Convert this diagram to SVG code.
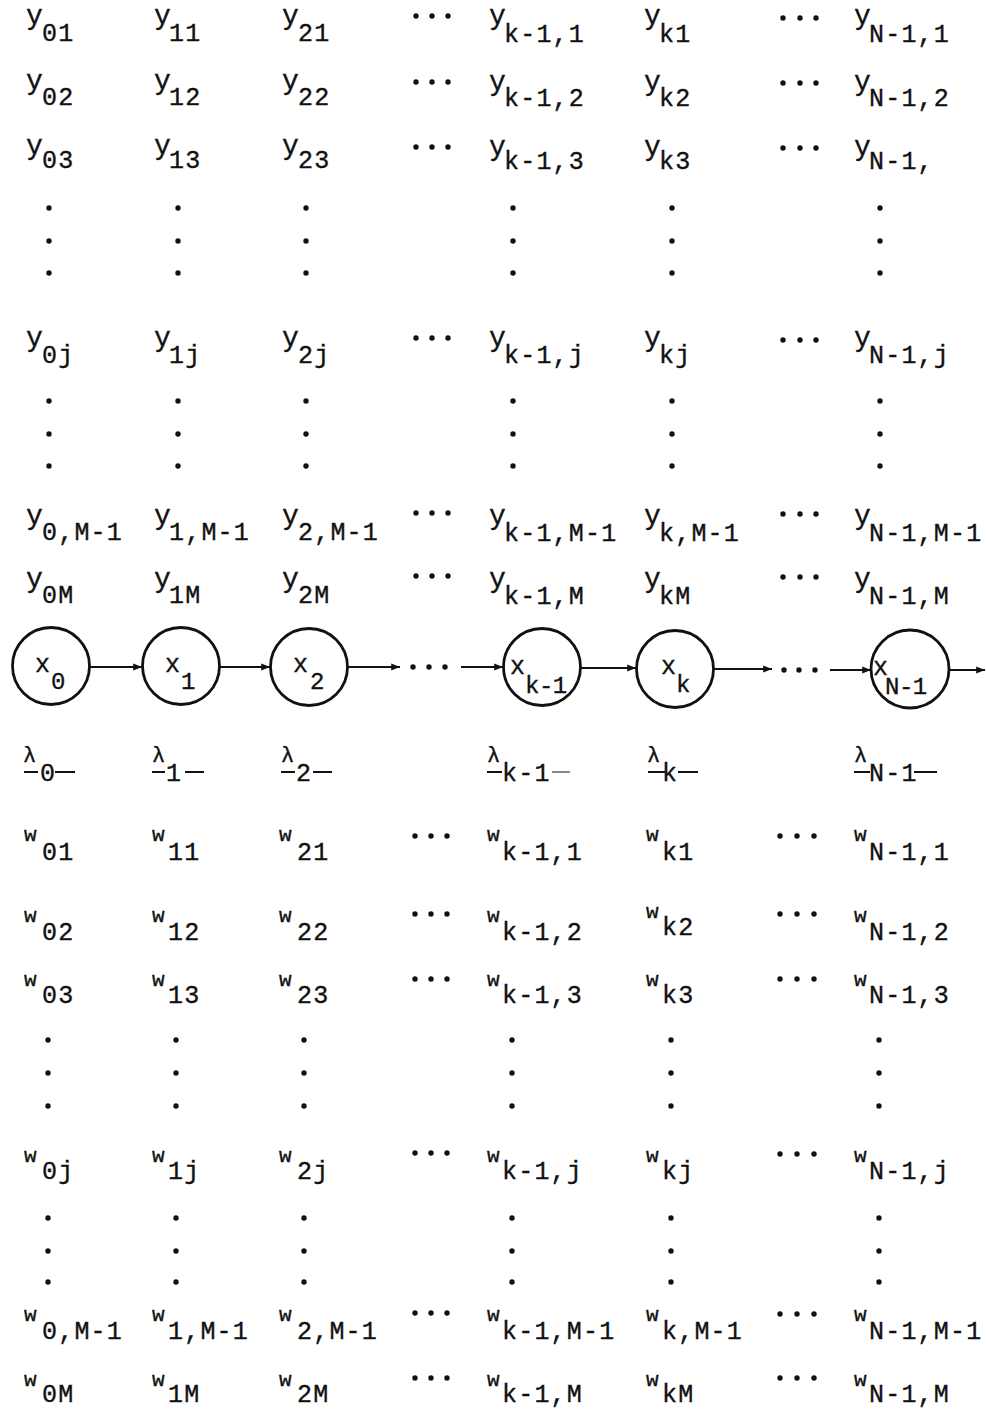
<svg xmlns="http://www.w3.org/2000/svg" width="986" height="1409" viewBox="0 0 986 1409">
<defs>
<style>
text{font-family:"Liberation Mono","DejaVu Sans Mono",monospace;fill:#111;stroke:#111;stroke-width:0.35}
.m{font-size:28px}
.w{font-size:21px}
.s{font-size:25px;letter-spacing:1.2px}
.lam{font-size:22px}
.xs{font-size:25px}
.xsub{font-size:24px;letter-spacing:-0.5px}
.node circle{fill:#fff;stroke:#111;stroke-width:2.8}
.edge{stroke:#111;stroke-width:2.2;fill:none;marker-end:url(#ah)}
.dot{fill:#111}
.ul{stroke:#111;stroke-width:2}
</style>
<marker id="ah" viewBox="0 0 10 10" refX="10" refY="5" markerWidth="5" markerHeight="4" orient="auto" markerUnits="strokeWidth">
<path d="M0,1 L10,5 L0,9 z" fill="#111"/>
</marker>
<circle id="d" r="2.7"/>
</defs>
<rect width="986" height="1409" fill="#fff"/>

<!-- column 0 -->
<g id="col-0">
<text class="m" x="26" y="24">y<tspan class="s" x="42" y="41">01</tspan></text>
<text class="m" x="26" y="89">y<tspan class="s" x="42" y="105">02</tspan></text>
<text class="m" x="26" y="154">y<tspan class="s" x="42" y="168">03</tspan></text>
<text class="m" x="26" y="346">y<tspan class="s" x="42" y="363">0j</tspan></text>
<text class="m" x="26" y="524">y<tspan class="s" x="42" y="540">0,M-1</tspan></text>
<text class="m" x="26" y="587">y<tspan class="s" x="42" y="603">0M</tspan></text>
<text class="lam" x="23" y="762">λ<tspan class="s" x="40" y="781">0</tspan></text>
<line class="ul" x1="24" y1="772" x2="38" y2="772"/><line class="ul" x1="55" y1="772" x2="75" y2="772"/>
<text class="w" x="24" y="841">w<tspan class="s" x="42" y="860">01</tspan></text>
<text class="w" x="24" y="922">w<tspan class="s" x="42" y="940">02</tspan></text>
<text class="w" x="24" y="986">w<tspan class="s" x="42" y="1003">03</tspan></text>
<text class="w" x="24" y="1162">w<tspan class="s" x="42" y="1179">0j</tspan></text>
<text class="w" x="24" y="1321">w<tspan class="s" x="42" y="1339">0,M-1</tspan></text>
<text class="w" x="24" y="1386">w<tspan class="s" x="42" y="1402">0M</tspan></text>
</g>

<!-- column 1 -->
<g id="col-1">
<text class="m" x="154" y="24">y<tspan class="s" x="169" y="41">11</tspan></text>
<text class="m" x="154" y="89">y<tspan class="s" x="169" y="105">12</tspan></text>
<text class="m" x="154" y="154">y<tspan class="s" x="169" y="168">13</tspan></text>
<text class="m" x="154" y="346">y<tspan class="s" x="169" y="363">1j</tspan></text>
<text class="m" x="154" y="524">y<tspan class="s" x="169" y="540">1,M-1</tspan></text>
<text class="m" x="154" y="587">y<tspan class="s" x="169" y="603">1M</tspan></text>
<text class="lam" x="152" y="762">λ<tspan class="s" x="166" y="781">1</tspan></text>
<line class="ul" x1="152" y1="772" x2="165" y2="772"/><line class="ul" x1="185" y1="772" x2="204" y2="772"/>
<text class="w" x="152" y="841">w<tspan class="s" x="168" y="860">11</tspan></text>
<text class="w" x="152" y="922">w<tspan class="s" x="168" y="940">12</tspan></text>
<text class="w" x="152" y="986">w<tspan class="s" x="168" y="1003">13</tspan></text>
<text class="w" x="152" y="1162">w<tspan class="s" x="168" y="1179">1j</tspan></text>
<text class="w" x="152" y="1321">w<tspan class="s" x="168" y="1339">1,M-1</tspan></text>
<text class="w" x="152" y="1386">w<tspan class="s" x="168" y="1402">1M</tspan></text>
</g>

<!-- column 2 -->
<g id="col-2">
<text class="m" x="282" y="24">y<tspan class="s" x="298" y="41">21</tspan></text>
<text class="m" x="282" y="89">y<tspan class="s" x="298" y="105">22</tspan></text>
<text class="m" x="282" y="154">y<tspan class="s" x="298" y="168">23</tspan></text>
<text class="m" x="282" y="346">y<tspan class="s" x="298" y="363">2j</tspan></text>
<text class="m" x="282" y="524">y<tspan class="s" x="298" y="540">2,M-1</tspan></text>
<text class="m" x="282" y="587">y<tspan class="s" x="298" y="603">2M</tspan></text>
<text class="lam" x="281" y="762">λ<tspan class="s" x="296" y="781">2</tspan></text>
<line class="ul" x1="281" y1="772" x2="295" y2="772"/><line class="ul" x1="313" y1="772" x2="332" y2="772"/>
<text class="w" x="279" y="841">w<tspan class="s" x="297" y="860">21</tspan></text>
<text class="w" x="279" y="922">w<tspan class="s" x="297" y="940">22</tspan></text>
<text class="w" x="279" y="986">w<tspan class="s" x="297" y="1003">23</tspan></text>
<text class="w" x="279" y="1162">w<tspan class="s" x="297" y="1179">2j</tspan></text>
<text class="w" x="279" y="1321">w<tspan class="s" x="297" y="1339">2,M-1</tspan></text>
<text class="w" x="279" y="1386">w<tspan class="s" x="297" y="1402">2M</tspan></text>
</g>

<!-- column k-1 -->
<g id="col-k-1">
<text class="m" x="489" y="24">y<tspan class="s" x="504" y="42">k-1,1</tspan></text>
<text class="m" x="489" y="90">y<tspan class="s" x="504" y="106">k-1,2</tspan></text>
<text class="m" x="489" y="155">y<tspan class="s" x="504" y="169">k-1,3</tspan></text>
<text class="m" x="489" y="346">y<tspan class="s" x="504" y="363">k-1,j</tspan></text>
<text class="m" x="489" y="524">y<tspan class="s" x="504" y="541">k-1,M-1</tspan></text>
<text class="m" x="489" y="587">y<tspan class="s" x="504" y="604">k-1,M</tspan></text>
<text class="lam" x="487" y="762">λ<tspan class="s" x="502" y="781">k-1</tspan></text>
<line class="ul" x1="487" y1="772" x2="502" y2="772"/><line x1="552" y1="772" x2="570" y2="772" stroke="#888" stroke-width="2"/>
<text class="w" x="487" y="841">w<tspan class="s" x="502" y="860">k-1,1</tspan></text>
<text class="w" x="487" y="922">w<tspan class="s" x="502" y="940">k-1,2</tspan></text>
<text class="w" x="487" y="986">w<tspan class="s" x="502" y="1003">k-1,3</tspan></text>
<text class="w" x="487" y="1162">w<tspan class="s" x="502" y="1179">k-1,j</tspan></text>
<text class="w" x="487" y="1321">w<tspan class="s" x="502" y="1339">k-1,M-1</tspan></text>
<text class="w" x="487" y="1386">w<tspan class="s" x="502" y="1402">k-1,M</tspan></text>
</g>

<!-- column k -->
<g id="col-k">
<text class="m" x="644" y="24">y<tspan class="s" x="659" y="42">k1</tspan></text>
<text class="m" x="644" y="90">y<tspan class="s" x="659" y="106">k2</tspan></text>
<text class="m" x="644" y="155">y<tspan class="s" x="659" y="169">k3</tspan></text>
<text class="m" x="644" y="346">y<tspan class="s" x="659" y="363">kj</tspan></text>
<text class="m" x="644" y="524">y<tspan class="s" x="659" y="541">k,M-1</tspan></text>
<text class="m" x="644" y="587">y<tspan class="s" x="659" y="604">kM</tspan></text>
<text class="lam" x="647" y="762">λ<tspan class="s" x="662" y="781">k</tspan></text>
<line class="ul" x1="648" y1="772" x2="665" y2="772"/><line class="ul" x1="678" y1="772" x2="698" y2="772"/>
<text class="w" x="646" y="841">w<tspan class="s" x="662" y="860">k1</tspan></text>
<text class="w" x="646" y="918">w<tspan class="s" x="662" y="935">k2</tspan></text>
<text class="w" x="646" y="986">w<tspan class="s" x="662" y="1003">k3</tspan></text>
<text class="w" x="646" y="1162">w<tspan class="s" x="662" y="1179">kj</tspan></text>
<text class="w" x="646" y="1321">w<tspan class="s" x="662" y="1339">k,M-1</tspan></text>
<text class="w" x="646" y="1386">w<tspan class="s" x="662" y="1402">kM</tspan></text>
</g>

<!-- column N-1 -->
<g id="col-N-1">
<text class="m" x="854" y="24">y<tspan class="s" x="869" y="42">N-1,1</tspan></text>
<text class="m" x="854" y="90">y<tspan class="s" x="869" y="106">N-1,2</tspan></text>
<text class="m" x="854" y="155">y<tspan class="s" x="869" y="169">N-1,</tspan></text>
<text class="m" x="854" y="346">y<tspan class="s" x="869" y="363">N-1,j</tspan></text>
<text class="m" x="854" y="524">y<tspan class="s" x="869" y="541">N-1,M-1</tspan></text>
<text class="m" x="854" y="587">y<tspan class="s" x="869" y="604">N-1,M</tspan></text>
<text class="lam" x="854" y="762">λ<tspan class="s" x="869" y="781">N-1</tspan></text>
<line class="ul" x1="854" y1="772" x2="870" y2="772"/><line class="ul" x1="914" y1="772" x2="937" y2="772"/>
<text class="w" x="854" y="841">w<tspan class="s" x="869" y="860">N-1,1</tspan></text>
<text class="w" x="854" y="922">w<tspan class="s" x="869" y="940">N-1,2</tspan></text>
<text class="w" x="854" y="986">w<tspan class="s" x="869" y="1003">N-1,3</tspan></text>
<text class="w" x="854" y="1162">w<tspan class="s" x="869" y="1179">N-1,j</tspan></text>
<text class="w" x="854" y="1321">w<tspan class="s" x="869" y="1339">N-1,M-1</tspan></text>
<text class="w" x="854" y="1386">w<tspan class="s" x="869" y="1402">N-1,M</tspan></text>
</g>

<!-- vertical and horizontal ellipses -->
<g id="ellipses" class="dot">
<g id="vdots-y1">
<use href="#d" x="49" y="208"/><use href="#d" x="49" y="241"/><use href="#d" x="49" y="273"/>
<use href="#d" x="178" y="208"/><use href="#d" x="178" y="241"/><use href="#d" x="178" y="273"/>
<use href="#d" x="306" y="208"/><use href="#d" x="306" y="241"/><use href="#d" x="306" y="273"/>
<use href="#d" x="513" y="208"/><use href="#d" x="513" y="241"/><use href="#d" x="513" y="273"/>
<use href="#d" x="672" y="208"/><use href="#d" x="672" y="241"/><use href="#d" x="672" y="273"/>
<use href="#d" x="880" y="208"/><use href="#d" x="880" y="241"/><use href="#d" x="880" y="273"/>
</g>
<g id="vdots-y2">
<use href="#d" x="49" y="401"/><use href="#d" x="49" y="434"/><use href="#d" x="49" y="466"/>
<use href="#d" x="178" y="401"/><use href="#d" x="178" y="434"/><use href="#d" x="178" y="466"/>
<use href="#d" x="306" y="401"/><use href="#d" x="306" y="434"/><use href="#d" x="306" y="466"/>
<use href="#d" x="513" y="401"/><use href="#d" x="513" y="434"/><use href="#d" x="513" y="466"/>
<use href="#d" x="672" y="401"/><use href="#d" x="672" y="434"/><use href="#d" x="672" y="466"/>
<use href="#d" x="880" y="401"/><use href="#d" x="880" y="434"/><use href="#d" x="880" y="466"/>
</g>
<g id="vdots-w1">
<use href="#d" x="48" y="1040"/><use href="#d" x="48" y="1073"/><use href="#d" x="48" y="1106"/>
<use href="#d" x="176" y="1040"/><use href="#d" x="176" y="1073"/><use href="#d" x="176" y="1106"/>
<use href="#d" x="304" y="1040"/><use href="#d" x="304" y="1073"/><use href="#d" x="304" y="1106"/>
<use href="#d" x="512" y="1040"/><use href="#d" x="512" y="1073"/><use href="#d" x="512" y="1106"/>
<use href="#d" x="671" y="1040"/><use href="#d" x="671" y="1073"/><use href="#d" x="671" y="1106"/>
<use href="#d" x="879" y="1040"/><use href="#d" x="879" y="1073"/><use href="#d" x="879" y="1106"/>
</g>
<g id="vdots-w2">
<use href="#d" x="48" y="1218"/><use href="#d" x="48" y="1251"/><use href="#d" x="48" y="1282"/>
<use href="#d" x="176" y="1218"/><use href="#d" x="176" y="1251"/><use href="#d" x="176" y="1282"/>
<use href="#d" x="304" y="1218"/><use href="#d" x="304" y="1251"/><use href="#d" x="304" y="1282"/>
<use href="#d" x="512" y="1218"/><use href="#d" x="512" y="1251"/><use href="#d" x="512" y="1282"/>
<use href="#d" x="671" y="1218"/><use href="#d" x="671" y="1251"/><use href="#d" x="671" y="1282"/>
<use href="#d" x="879" y="1218"/><use href="#d" x="879" y="1251"/><use href="#d" x="879" y="1282"/>
</g>
<g id="hdots-rows">
<use href="#d" x="416" y="16"/><use href="#d" x="432" y="16"/><use href="#d" x="448" y="16"/>
<use href="#d" x="783" y="18"/><use href="#d" x="800" y="18"/><use href="#d" x="816" y="18"/>
<use href="#d" x="416" y="82"/><use href="#d" x="432" y="82"/><use href="#d" x="448" y="82"/>
<use href="#d" x="783" y="83"/><use href="#d" x="800" y="83"/><use href="#d" x="816" y="83"/>
<use href="#d" x="416" y="147"/><use href="#d" x="432" y="147"/><use href="#d" x="448" y="147"/>
<use href="#d" x="783" y="148"/><use href="#d" x="800" y="148"/><use href="#d" x="816" y="148"/>
<use href="#d" x="416" y="338"/><use href="#d" x="432" y="338"/><use href="#d" x="448" y="338"/>
<use href="#d" x="783" y="340"/><use href="#d" x="800" y="340"/><use href="#d" x="816" y="340"/>
<use href="#d" x="416" y="513"/><use href="#d" x="432" y="513"/><use href="#d" x="448" y="513"/>
<use href="#d" x="783" y="514"/><use href="#d" x="800" y="514"/><use href="#d" x="816" y="514"/>
<use href="#d" x="416" y="576"/><use href="#d" x="432" y="576"/><use href="#d" x="448" y="576"/>
<use href="#d" x="783" y="577"/><use href="#d" x="800" y="577"/><use href="#d" x="816" y="577"/>
<use href="#d" x="415" y="836"/><use href="#d" x="431" y="836"/><use href="#d" x="447" y="836"/>
<use href="#d" x="780" y="836"/><use href="#d" x="797" y="836"/><use href="#d" x="814" y="836"/>
<use href="#d" x="415" y="914"/><use href="#d" x="431" y="914"/><use href="#d" x="447" y="914"/>
<use href="#d" x="780" y="914"/><use href="#d" x="797" y="914"/><use href="#d" x="814" y="914"/>
<use href="#d" x="415" y="979"/><use href="#d" x="431" y="979"/><use href="#d" x="447" y="979"/>
<use href="#d" x="780" y="979"/><use href="#d" x="797" y="979"/><use href="#d" x="814" y="979"/>
<use href="#d" x="415" y="1153"/><use href="#d" x="431" y="1153"/><use href="#d" x="447" y="1153"/>
<use href="#d" x="780" y="1154"/><use href="#d" x="797" y="1154"/><use href="#d" x="814" y="1154"/>
<use href="#d" x="415" y="1313"/><use href="#d" x="431" y="1313"/><use href="#d" x="447" y="1313"/>
<use href="#d" x="780" y="1314"/><use href="#d" x="797" y="1314"/><use href="#d" x="814" y="1314"/>
<use href="#d" x="415" y="1378"/><use href="#d" x="431" y="1378"/><use href="#d" x="447" y="1378"/>
<use href="#d" x="780" y="1378"/><use href="#d" x="797" y="1378"/><use href="#d" x="814" y="1378"/>
</g>
</g>

<!-- connectors -->
<g id="connectors">
<line class="edge" x1="90" y1="667" x2="142" y2="667"/>
<line class="edge" x1="220" y1="667" x2="270" y2="667"/>
<line class="edge" x1="348" y1="667" x2="400" y2="667"/>
<g class="dot"><use href="#d" x="413" y="667"/><use href="#d" x="429" y="667"/><use href="#d" x="445" y="667"/></g>
<line class="edge" x1="461" y1="667" x2="503" y2="667"/>
<line class="edge" x1="581" y1="668" x2="636" y2="668"/>
<line class="edge" x1="714" y1="669" x2="772" y2="669"/>
<g class="dot"><use href="#d" x="784" y="670"/><use href="#d" x="799" y="670"/><use href="#d" x="815" y="670"/></g>
<line class="edge" x1="830" y1="670" x2="871" y2="670"/>
<line class="edge" x1="949" y1="670" x2="985" y2="670"/>
</g>

<!-- state nodes -->
<g id="node-x0" class="node"><circle cx="51" cy="666" r="38.5"/>
<text class="xs" x="35" y="672">x<tspan class="xsub" x="51" y="689">0</tspan></text></g>
<g id="node-x1" class="node"><circle cx="181" cy="666" r="38.5"/>
<text class="xs" x="165" y="672">x<tspan class="xsub" x="181" y="689">1</tspan></text></g>
<g id="node-x2" class="node"><circle cx="309" cy="667" r="38.5"/>
<text class="xs" x="293" y="672">x<tspan class="xsub" x="310" y="689">2</tspan></text></g>
<g id="node-xk-1" class="node"><circle cx="542" cy="667" r="38.5"/>
<text class="xs" x="510" y="674">x<tspan class="xsub" x="525" y="693">k-1</tspan></text></g>
<g id="node-xk" class="node"><circle cx="675" cy="669" r="38.5"/>
<text class="xs" x="661" y="674">x<tspan class="xsub" x="676" y="692">k</tspan></text></g>
<g id="node-xN-1" class="node"><circle cx="910" cy="669" r="39"/>
<text class="xs" x="873" y="675">x<tspan class="xsub" x="885" y="694">N-1</tspan></text></g>
</svg>
